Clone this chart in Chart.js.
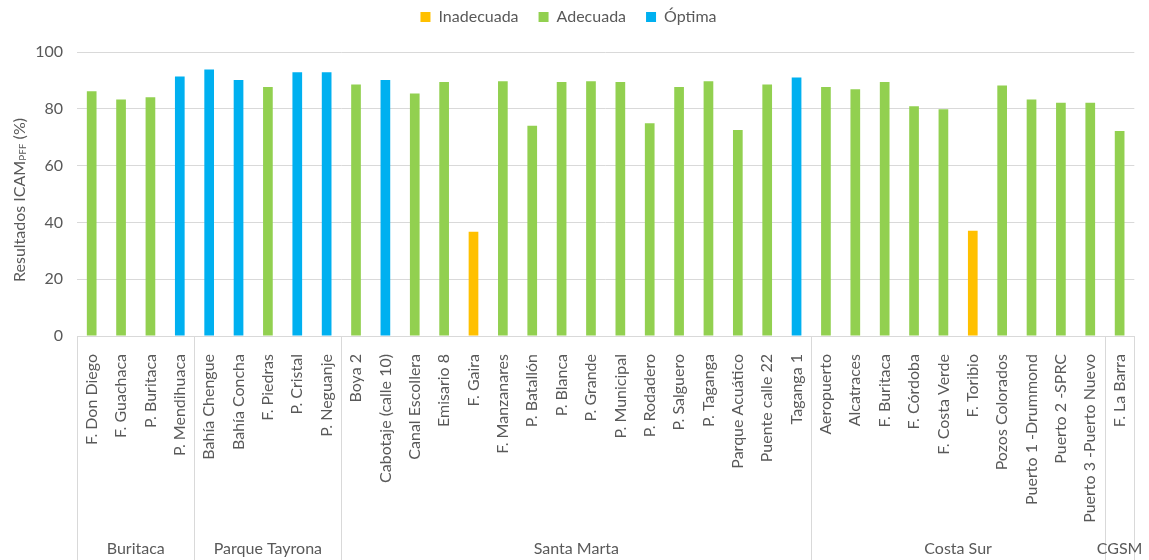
<!DOCTYPE html>
<html>
<head>
<meta charset="utf-8">
<script src="https://cdn.jsdelivr.net/npm/chart.js@4"></script>
<style>
  body { margin: 0; background: #fff; }
  #wrap { width: 1149px; height: 560px; position: relative; }
</style>
</head>
<body>
<div id="wrap"><canvas id="chart"></canvas></div>
<script>
// categorias (puntos de muestreo)
const categories = [
  'F. Don Diego', 'F. Guachaca', 'P. Buritaca', 'P. Mendihuaca',
  'Bahía Chengue', 'Bahía Concha', 'F. Piedras', 'P. Cristal', 'P. Neguanje',
  'Boya 2', 'Cabotaje (calle 10)', 'Canal Escollera', 'Emisario 8', 'F. Gaira', 'F. Manzanares',
  'P. Batallón', 'P. Blanca', 'P. Grande', 'P. Municipal', 'P. Rodadero', 'P. Salguero',
  'P. Taganga', 'Parque Acuático', 'Puente calle 22', 'Taganga 1',
  'Aeropuerto', 'Alcatraces', 'F. Buritaca', 'F. Córdoba', 'F. Costa Verde', 'F. Toribio',
  'Pozos Colorados', 'Puerto 1 -Drummond', 'Puerto 2 -SPRC', 'Puerto 3 -Puerto Nuevo',
  'F. La Barra'
];

// zonas
const groupNames = ['Buritaca', 'Parque Tayrona', 'Santa Marta', 'Costa Sur', 'CGSM'];
const groupSizes = [4, 5, 16, 10, 1];

// valores ICAM
const values = [
  86.2, 83.3, 84.1, 91.4,
  93.8, 90.1, 87.7, 92.9, 92.9,
  88.6, 90.1, 85.4, 89.4, 36.7, 89.7,
  74.0, 89.4, 89.7, 89.4, 74.9, 87.7,
  89.7, 72.5, 88.6, 91.0,
  87.7, 86.9, 89.4, 80.9, 79.8, 37.1,
  88.2, 83.3, 82.1, 82.1,
  72.2
];

// clase: I = Inadecuada, A = Adecuada, O = Óptima
const ratings = [
  'A', 'A', 'A', 'O',
  'O', 'O', 'A', 'O', 'O',
  'A', 'O', 'A', 'A', 'I', 'A',
  'A', 'A', 'A', 'A', 'A', 'A',
  'A', 'A', 'A', 'O',
  'A', 'A', 'A', 'A', 'A', 'I',
  'A', 'A', 'A', 'A',
  'A'
];

const yTicks = [0, 20, 40, 60, 80, 100];

const seriesNames = ['Inadecuada', 'Adecuada', 'Óptima'];
const seriesKeys = ['I', 'A', 'O'];
const seriesColors = ['#FFC000', '#92D050', '#00B0F0'];

const FONT = 'Lato, "Open Sans", sans-serif';
const TXT = '#595959';
const GRID = '#d9d9d9';

function makeDatasets() {
  let ans = [];
  for (let s = 0; s < seriesKeys.length; s++) {
    let d = [];
    for (let i = 0; i < values.length; i++) {
      d.push(ratings[i] === seriesKeys[s] ? values[i] : null);
    }
    ans.push({
      label: seriesNames[s],
      data: d,
      backgroundColor: seriesColors[s],
      borderWidth: 0,
      categoryPercentage: 1,
      barPercentage: 0.33
    });
  }
  return ans;
}

// mas espacio bajo la leyenda
const legendSpace = {
  id: 'legendSpace',
  afterInit(chart) {
    const lg = chart.legend;
    if (!lg) return;
    const orig = lg.fit;
    lg.fit = function () {
      orig.call(this);
      this.height += 17;
    };
  }
};

// separadores y nombres de zona bajo el eje
const groupPlugin = {
  id: 'groups',
  afterDraw(chart) {
    const ctx = chart.ctx;
    const x = chart.scales.x;
    const area = chart.chartArea;
    const step = (area.right - area.left) / categories.length;
    ctx.save();
    ctx.strokeStyle = GRID;
    ctx.lineWidth = 1;
    let start = 0;
    let edges = [area.left];
    for (let g = 0; g < groupSizes.length; g++) {
      const end = start + groupSizes[g];
      edges.push(x.getPixelForValue(end - 1) + step / 2);
      start = end;
    }
    for (let e of edges) {
      const px = Math.round(e) + 0.5;
      ctx.beginPath();
      ctx.moveTo(px, area.bottom);
      ctx.lineTo(px, chart.height);
      ctx.stroke();
    }
    ctx.fillStyle = TXT;
    ctx.font = '16px ' + FONT;
    ctx.textAlign = 'center';
    ctx.textBaseline = 'middle';
    for (let g = 0; g < groupNames.length; g++) {
      ctx.fillText(groupNames[g], (edges[g] + edges[g + 1]) / 2, 549);
    }
    ctx.restore();
  }
};

// titulo del eje Y con subindice
const yTitlePlugin = {
  id: 'ytitle',
  afterDraw(chart) {
    const ctx = chart.ctx;
    ctx.save();
    ctx.translate(20, 200);
    ctx.rotate(-Math.PI / 2);
    ctx.fillStyle = TXT;
    ctx.textBaseline = 'middle';
    const big = '16px ' + FONT;
    const small = '10px ' + FONT;
    const parts = [['Resultados ICAM', big, 0], ['PFF', small, 3], [' (%)', big, 0]];
    let total = 0;
    for (let p of parts) { ctx.font = p[1]; total += ctx.measureText(p[0]).width; }
    let cx = -total / 2;
    for (let p of parts) {
      ctx.font = p[1];
      ctx.fillText(p[0], cx, p[2]);
      cx += ctx.measureText(p[0]).width;
    }
    ctx.restore();
  }
};

function createChart() {
  const canvas = document.getElementById('chart');
  return new Chart(canvas, {
    type: 'bar',
    data: { labels: categories, datasets: makeDatasets() },
    options: {
      responsive: true,
      maintainAspectRatio: false,
      animation: false,
      layout: { padding: { top: -11, right: 12, bottom: 0, left: 0 } },
      plugins: {
        legend: {
          position: 'top',
          labels: {
            boxWidth: 10,
            boxHeight: 10,
            padding: 20,
            color: TXT,
            font: { family: FONT, size: 16 }
          }
        },
        tooltip: { enabled: false }
      },
      scales: {
        x: {
          stacked: true,
          grid: { display: false },
          border: { color: GRID },
          ticks: {
            minRotation: 90,
            maxRotation: 90,
            autoSkip: false,
            padding: 10,
            color: TXT,
            font: { family: FONT, size: 16 }
          },
          afterFit(scale) { scale.height = 224; }
        },
        y: {
          stacked: true,
          min: 0,
          max: 100,
          afterBuildTicks(scale) { scale.ticks = yTicks.map(v => ({ value: v })); },
          grid: { color: GRID, drawTicks: false },
          border: { display: false },
          ticks: {
            padding: 14,
            color: TXT,
            font: { family: FONT, size: 16 }
          },
          afterFit(scale) { scale.width = 77; }
        }
      }
    },
    plugins: [legendSpace, groupPlugin, yTitlePlugin]
  });
}

addEventListener('DOMContentLoaded', () => {
  createChart();
});
</script>
</body>
</html>
